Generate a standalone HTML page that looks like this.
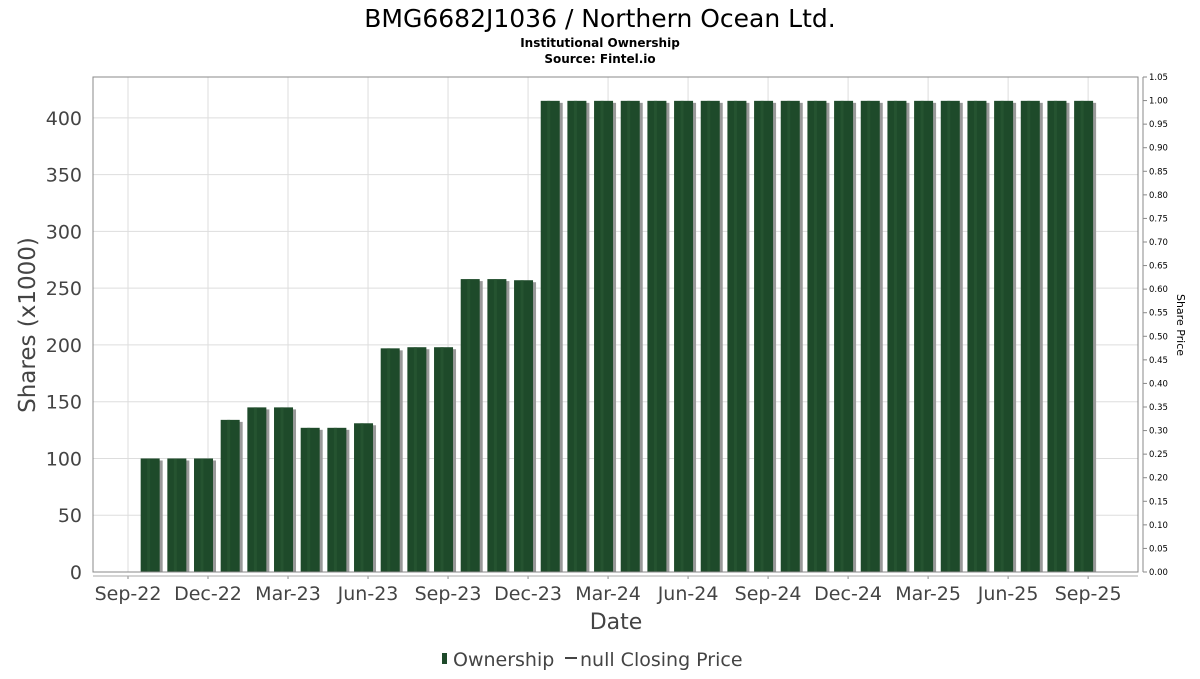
<!DOCTYPE html>
<html><head><meta charset="utf-8"><style>
body{margin:0;background:#fff;width:1200px;height:675px;overflow:hidden;font-family:"DejaVu Sans","Liberation Sans",sans-serif;}
</style></head><body>
<svg id="chart" width="1200" height="675" xmlns="http://www.w3.org/2000/svg" font-family="DejaVu Sans, Liberation Sans, sans-serif">
<text x="600" y="27" text-anchor="middle" font-size="25" fill="#000">BMG6682J1036 / Northern Ocean Ltd.</text>
<text x="600" y="47" text-anchor="middle" font-size="12" font-weight="bold" fill="#000">Institutional Ownership</text>
<text x="600" y="63" text-anchor="middle" font-size="12" font-weight="bold" fill="#000">Source: Fintel.io</text>
<g id="grid"></g>
<g id="bars"></g>
<rect x="93" y="77" width="1045" height="495" fill="none" stroke="#888"/>
<g id="yleft"></g><g id="yright"></g><g id="xaxis"></g>
<text transform="translate(35,325) rotate(-90)" text-anchor="middle" font-size="23" fill="#444">Shares (x1000)</text>
<text transform="translate(1177,325) rotate(90)" text-anchor="middle" font-size="11" fill="#000">Share Price</text>
<text x="616" y="629" text-anchor="middle" font-size="22" fill="#444">Date</text>
<g>
<rect x="442" y="653" width="5" height="11" fill="#1e4a2a"/>
<text x="453" y="666" font-size="19" fill="#444">Ownership</text>
<line x1="565" y1="658" x2="577" y2="658" stroke="#444" stroke-width="2"/>
<text x="580" y="666" font-size="19" fill="#444">null Closing Price</text>
</g>
</svg>
<script>
const values=[100,100,100,134,145,145,127,127,131,197,198,198,258,258,257,415,415,415,415,415,415,415,415,415,415,415,415,415,415,415,415,415,415,415,415,415];
const xLabels=["Sep-22","Dec-22","Mar-23","Jun-23","Sep-23","Dec-23","Mar-24","Jun-24","Sep-24","Dec-24","Mar-25","Jun-25","Sep-25"];
const leftTicks=[0,50,100,150,200,250,300,350,400];
const rightTicks=[0,0.05,0.1,0.15,0.2,0.25,0.3,0.35,0.4,0.45,0.5,0.55,0.6,0.65,0.7,0.75,0.8,0.85,0.9,0.95,1.0,1.05];
const NS="http://www.w3.org/2000/svg";
const y0=572, yTop=77, leftMax=436, rightMax=1.05;
const x0=128, mw=26.67;
function yL(v){return y0-(v/leftMax)*(y0-yTop);}
function yR(v){return y0-(v/rightMax)*(y0-yTop);}
function xM(i){return x0+i*mw;}
function mk(tag,attrs,parent){const e=document.createElementNS(NS,tag);for(const k in attrs)e.setAttribute(k,attrs[k]);parent.appendChild(e);return e;}
const grid=document.getElementById('grid'),bars=document.getElementById('bars');
const yl=document.getElementById('yleft'),yr=document.getElementById('yright'),xa=document.getElementById('xaxis');
leftTicks.forEach(t=>{
 const g=mk('line',{x1:93,x2:1138,y1:yL(t),y2:yL(t),stroke:'#ddd'},grid);
 
 
 const tx=mk('text',{x:82,y:yL(t)+7,'text-anchor':'end','font-size':19,fill:'#444'},yl);
 tx.textContent=t;
 
 
});
rightTicks.forEach(t=>{
 mk('line',{x1:1143,x2:1147,y1:yR(t),y2:yR(t),stroke:'#888'},yr);
 const tx=mk('text',{x:1149,y:yR(t)+3,'font-size':8.5,fill:'#000'},yr);
 tx.textContent=t.toFixed(2);
 
 
});
mk('line',{x1:1143,x2:1143,y1:yTop,y2:y0,stroke:'#888'},yr);
xLabels.forEach((l,k)=>{
 const x=xM(k*3);
 const g=mk('line',{x1:x,x2:x,y1:yTop,y2:y0,stroke:'#ddd'},grid);
 
 
 mk('line',{x1:x,x2:x,y1:576,y2:579,stroke:'#888'},xa);
 const tx=mk('text',{x:x,y:600,'text-anchor':'middle','font-size':19,fill:'#444'},xa);
 tx.textContent=l;
 
 
});
mk('line',{x1:93,x2:1138,y1:576,y2:576,stroke:'#aaa'},xa);
values.forEach((v,i)=>{
 const cx=xM(i+1)-4.5, w=19, top=yL(v);
 mk('rect',{x:cx-w/2+3,y:top+2,width:w,height:y0-top-2,fill:'#999'},bars);
 const b=mk('rect',{x:cx-w/2,y:top,width:w,height:y0-top,fill:'#1e4a2a'},bars);
 
 
 mk('rect',{x:cx-3,y:top,width:3,height:y0-top,fill:'#2a5a36',opacity:0.6},bars);
});
</script>
</body></html>
